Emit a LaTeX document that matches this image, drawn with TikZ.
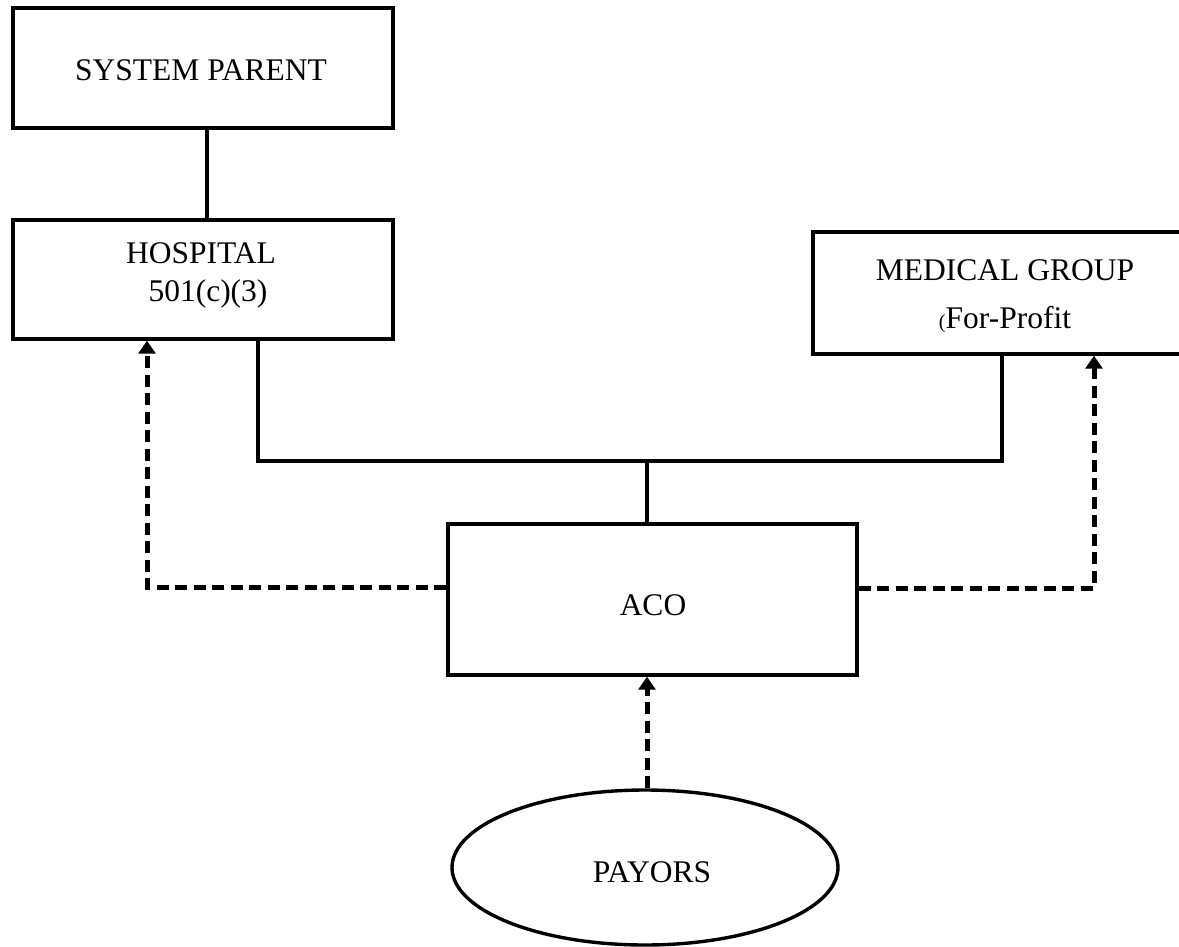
\documentclass[tikz,border=0pt]{standalone}
\usepackage{fontspec}
\setmainfont{Liberation Serif}
\usetikzlibrary{arrows.meta,shapes.geometric}
\begin{document}
\begin{tikzpicture}[x=1pt,y=-1pt,
  box/.style={draw,line width=3.4pt,rectangle,inner sep=0pt},
  oval/.style={draw,line width=3.4pt,ellipse,inner sep=0pt},
  lbl/.style={anchor=base,inner sep=0pt,font=\fontsize{31.5}{36}\selectfont},
  link/.style={line width=3.2pt},
  dasharrow/.style={line width=5pt,dash pattern=on 12pt off 6.5pt,
    -{Triangle[width=17pt,length=13pt]}}]
\useasboundingbox (0,0) rectangle (1179,946);

% entity boxes
\node[box,minimum width=380pt,minimum height=120pt] (sys) at (203,68) {};
\node[box,minimum width=380pt,minimum height=119pt] (hosp) at (203,279.5) {};
\node[box,minimum width=377pt,minimum height=122pt] (med) at (1001.5,293) {};
\node[box,minimum width=409pt,minimum height=151pt] (aco) at (652.5,599.5) {};
\node[oval,minimum width=386pt,minimum height=155pt] (pay) at (645,867.5) {};

% box captions
\node[lbl] (tsys) at (201,80) {SYSTEM PARENT};
\node[lbl] (thosp) at (201,263) {HOSPITAL};
\node[lbl] (thosp2) at (208,301) {501(c)(3)};
\node[lbl] (tmed) at (1005,280) {MEDICAL GROUP};
\node[lbl] (tmed2) at (1005,328) {{\fontsize{20}{24}\selectfont(}For-Profit};
\node[lbl] (taco) at (653,615) {ACO};
\node[lbl] (tpay) at (652,882) {PAYORS};

% ownership lines
\draw[link] ([xshift=4pt]sys.south) -- ([xshift=4pt]hosp.north);
\coordinate (busL) at (258,461);
\coordinate (busR) at (1002,461);
\coordinate (busM) at (647,461);
\draw[link] (hosp.south -| busL) -- (busL) -- (busR) -- (med.south -| busR);
\draw[link] (busM) -- (aco.north -| busM);

% contractual flows
\coordinate (lc) at (147,587);
\coordinate (rc) at (1094,588);
\draw[dasharrow] (aco.west |- lc) -- (lc) -- (hosp.south -| lc);
\draw[dasharrow] (aco.east |- rc) -- (rc) -- (med.south -| rc);
\draw[dasharrow] (pay.north -| busM) -- (aco.south -| busM);
\end{tikzpicture}
\end{document}
